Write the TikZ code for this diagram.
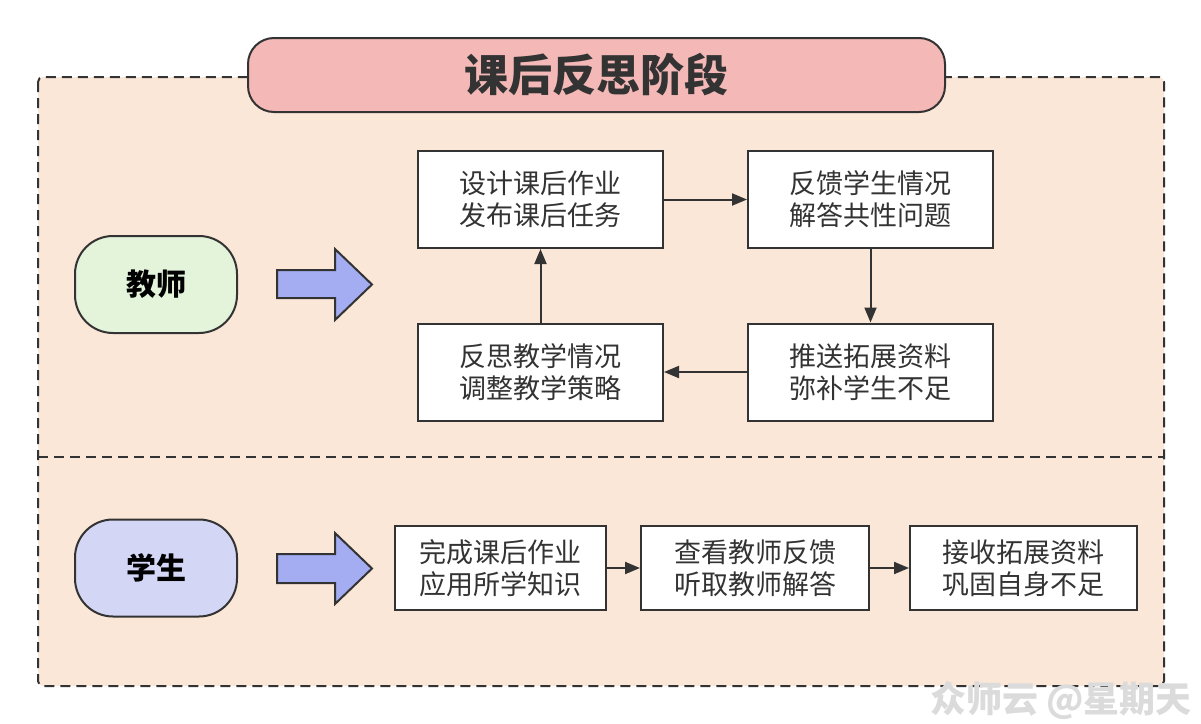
\documentclass[tikz,border=0pt]{standalone}
\usepackage{fontspec}
\setmainfont{Noto Sans CJK SC}
\usetikzlibrary{arrows.meta, positioning}

\definecolor{linec}{HTML}{333333}
\definecolor{peach}{HTML}{FBE7D8}
\definecolor{titlered}{HTML}{F4B8B7}
\definecolor{teachgreen}{HTML}{E3F4DA}
\definecolor{studlilac}{HTML}{D4D6F6}
\definecolor{bigarrow}{HTML}{A4ACF2}

\begin{document}
\begin{tikzpicture}[x=1pt, y=-1pt,
  font=\fontsize{27}{32}\selectfont,
  box/.style={draw=linec, line width=2pt, fill=white, text=linec, align=center, inner sep=0pt, minimum height=97pt},
  role/.style={draw=linec, line width=2pt, rounded corners=38pt, minimum width=162pt, minimum height=97pt, font=\fontsize{30}{36}\selectfont\bfseries},
  fat/.style={draw=linec, line width=2pt, fill=bigarrow},
  >={Triangle[length=15pt, width=12pt]}]
\useasboundingbox (0,0) rectangle (1201,723);
% frame and title
\draw[linec, line width=2pt, dash pattern=on 10pt off 6pt, fill=peach, rounded corners=5pt] (38,77) rectangle (1164,686);
\draw[linec, line width=2pt, dash pattern=on 10pt off 6pt] (38,457) -- (1164,457);
\node[draw=linec, line width=2pt, fill=titlered, rounded corners=26pt, minimum width=697pt, minimum height=74pt, text=linec, font=\fontsize{44}{50}\selectfont\bfseries] (title) at (596.5,75) {课后反思阶段};
% teacher
\node[role, fill=teachgreen] (teacher) at (156,284.5) {教师};
\filldraw[fat] (277,270) -- (335,270) -- (335,249) -- (372,284.5) -- (335,320) -- (335,298) -- (277,298) -- cycle;
\node[box, minimum width=245pt] (design) at (540.5,199.5) {设计课后作业\\发布课后任务};
\node[box, minimum width=245pt] (feedback) at (870.5,199.5) {反馈学生情况\\解答共性问题};
\node[box, minimum width=245pt] (push) at (870.5,372) {推送拓展资料\\弥补学生不足};
\node[box, minimum width=245pt] (reflect) at (540.5,372) {反思教学情况\\调整教学策略};
\draw[->, linec, line width=2pt] (design) -- (feedback);
\draw[->, linec, line width=2pt] (feedback) -- (push);
\draw[->, linec, line width=2pt] (push) -- (reflect);
\draw[->, linec, line width=2pt] (reflect) -- (design);
% student
\node[role, fill=studlilac] (student) at (156,568) {学生};
\filldraw[fat] (277,554) -- (335,554) -- (335,533) -- (372,568.5) -- (335,604) -- (335,583) -- (277,583) -- cycle;
\node[box, minimum width=211pt, minimum height=84pt] (finish) at (500.5,568) {完成课后作业\\应用所学知识};
\node[box, minimum width=228pt, minimum height=84pt] (check) at (755,568) {查看教师反馈\\听取教师解答};
\node[box, minimum width=227pt, minimum height=84pt] (receive) at (1023.5,568) {接收拓展资料\\巩固自身不足};
\draw[->, linec, line width=2pt] (finish) -- (check);
\draw[->, linec, line width=2pt] (check) -- (receive);
% watermark
\node[text=black!14, font=\fontsize{36}{40}\selectfont\bfseries, anchor=east, inner sep=0pt] (mark) at (1192,700) {众师云 @星期天};
\end{tikzpicture}
\end{document}
